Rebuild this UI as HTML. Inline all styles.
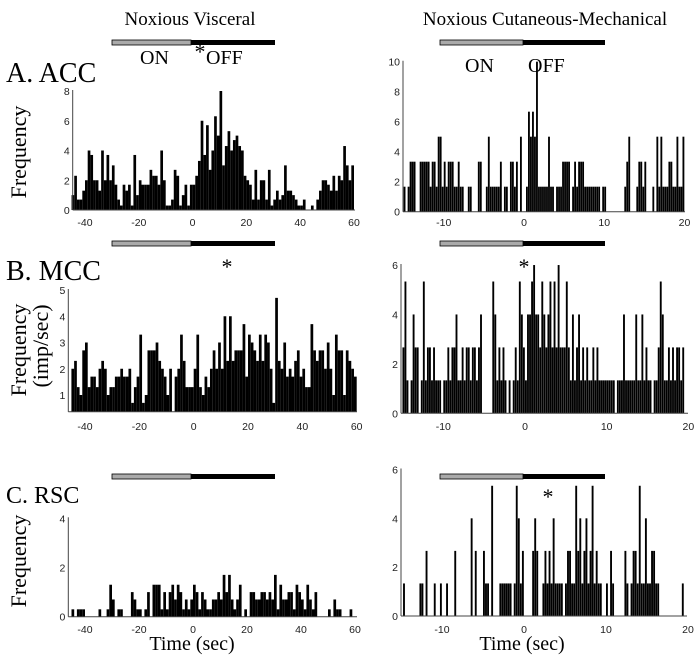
<!DOCTYPE html>
<html><head><meta charset="utf-8"><style>
html,body{margin:0;padding:0;background:#fff;}
svg{display:block;}
.serif{font-family:"Liberation Serif",serif;fill:#000;}
.tick{font-family:"Liberation Sans",sans-serif;font-size:10.5px;fill:#222;}
</style></head><body>
<svg id="fig" width="700" height="661" viewBox="0 0 700 661" xmlns="http://www.w3.org/2000/svg">
<text class="serif" x="190" y="25" font-size="19" text-anchor="middle">Noxious Visceral</text>
<text class="serif" x="545" y="25" font-size="19" text-anchor="middle">Noxious Cutaneous-Mechanical</text>
<text class="serif" x="6" y="82" font-size="28">A. ACC</text>
<text class="serif" x="6" y="280" font-size="28">B. MCC</text>
<text class="serif" x="6" y="503" font-size="24">C. RSC</text>
<text class="serif" font-size="22" transform="translate(26,152) rotate(-90)" text-anchor="middle">Frequency</text>
<text class="serif" font-size="22" transform="translate(26,350) rotate(-90)" text-anchor="middle">Frequency</text>
<text class="serif" font-size="22" transform="translate(48,346) rotate(-90)" text-anchor="middle">(imp/sec)</text>
<text class="serif" font-size="22" transform="translate(26,561) rotate(-90)" text-anchor="middle">Frequency</text>
<text class="serif" x="192" y="650" font-size="20" text-anchor="middle">Time (sec)</text>
<text class="serif" x="522" y="650" font-size="20" text-anchor="middle">Time (sec)</text>
<text class="serif" x="140" y="64" font-size="20">ON</text>
<text class="serif" x="206" y="64" font-size="20">OFF</text>
<text class="serif" x="465" y="72" font-size="20">ON</text>
<text class="serif" x="528" y="72" font-size="20">OFF</text>
<g id="stim"></g>
<g id="plots"></g>
<text class="serif" x="200" y="59" font-size="22" text-anchor="middle">*</text>
<text class="serif" x="227" y="274" font-size="22" text-anchor="middle">*</text>
<text class="serif" x="524" y="274" font-size="22" text-anchor="middle">*</text>
<text class="serif" x="548" y="504" font-size="22" text-anchor="middle">*</text>
</svg>
<script>
const NS="http://www.w3.org/2000/svg";
// Panel A left (1 s bins from -45)
const accVisceral=[1,2.3,0.7,0.7,1.3,2,4,3.7,2,2,1.3,4,2,3.7,2,3,1.7,0.7,0.3,1.7,1.3,1.7,0.3,3.7,1,2,1.7,1.7,1.7,2.7,2.3,2.3,1.7,4,2,0.3,0.3,0.7,2.7,2.3,0.3,1,1.7,0.3,1.7,1.7,2.3,3.3,6,3.7,5.7,2.7,4,6.3,5,8,3,4.3,5.3,4,4.7,5,4.3,4,2.3,2,1.7,0.7,2.7,0.7,2,2,0.7,2.7,0.3,0.7,1.3,0.7,1,3,1.3,1.3,1,0.7,0.3,0.3,0.7,0,0,0.3,0,0.7,1.3,2,2,1.7,1.3,2.3,1.3,2.3,2,4.3,3,2,3];
// Panel A right (0.25 s bins from -15), spike counts, freq = count*1.667
const accCutCounts=[1,0,1,2,2,2,0,0,2,2,2,2,2,1,2,2,1,3,3,1,2,1,2,2,2,1,1,2,1,1,0,0,1,1,0,0,0,2,2,0,0,1,3,1,1,1,1,1,2,0,1,1,0,2,2,1,2,0,3,0,0,1,4,3,4,3,6,1,1,1,1,1,3,1,1,0,1,1,1,2,2,2,2,0,1,2,1,2,2,2,1,1,1,1,1,1,1,1,0,1,1,0,0,0,0,0,0,0,0,0,1,2,3,0,0,0,1,2,2,1,2,0,0,0,1,0,3,1,3,1,1,1,2,2,1,1,3,1,1,3];
// Panel B left
const mccVisceral=[2,2.3,1.3,1,2.7,3,1.3,1.7,1.7,1.3,2,2.3,2,1,1.3,1.3,1.7,1.7,2,1.7,1.7,2,0.7,1.3,1.7,3.3,0.7,1,2.7,2.7,2.7,3,2.3,2,1.7,1,2,0.3,1.7,2,3.3,2.3,1.3,1.3,1.3,2,3.3,1.3,1,1.7,1.3,2,2.7,2,3,2,4,2.3,4,2.3,2.7,2.7,2.7,3.7,1.7,3.3,3,2.7,2.3,3.3,2.3,3.3,3,2,0.7,4.7,2.3,2,3,1.7,2,1.7,2.3,2.7,1.7,2,1.3,1.3,3.7,2.7,2.3,2.7,2.7,2,3,2,1,3.3,2.7,2.7,1,2.7,2.3,2,1.7];
// Panel B right counts, freq = count*1.333
const mccCutCounts=[2,4,1,0,1,3,2,2,0,1,4,1,2,2,1,2,1,1,1,0,1,1,2,1,2,2,3,1,1,2,1,2,2,1,2,2,1,2,3,0,0,0,0,0,4,3,1,2,1,2,1,0,1,0,1,2,1,4,3,2,1,3,3,4,4.5,3,3,2,4,3,2,3,4,2,4,2,4.5,2,2,2,4,2,1,3,1,2,3,1,2,1,2,1,1,2,1,2,1,1,1,1,1,1,1,1,0,1,1,1,3,1,1,1,1,1,3,1,1,3,1,2,1,1,0,1,1,2,4,3,1,1,2,1,2,1,2,2,1,2,0,0];
// Panel C left
const rscVisceral=[0.3,0,0.3,0.3,0.3,0,0,0,0,0,0.3,0,0,0.3,1.3,0.7,0,0.3,0.3,0,0,0,1,0.7,0.3,0.3,0,0.3,1,0,1.3,1.3,1.3,0.3,1,0.3,1,1.3,0.7,1.3,1,0.3,0.7,0.3,0.7,1.3,1,0.3,1,0.7,0.3,0.3,0.7,0.7,1,0.7,1.7,1,1.7,0.7,0.3,0.7,1.3,0,0.3,0,1,1,0.7,0.7,1,1,0.7,1,0.7,1.7,0.3,1.3,0.7,0.7,1,1,0.3,1.3,1,0.7,0.3,1.3,0.7,0.3,1,0,0,0,0,0.3,0,0.7,0.3,0.3,0,0,0,0.3,0];
// Panel C right counts, freq = count*1.333
const rscCutCounts=[0,1,0,0,0,0,0,0,0,1,1,0,2,0,0,0,1,0,0,1,0,0,1,0,0,0,2,0,0,0,0,0,0,0,3,0,2,0,0,0,2,1,1,0,4,0,0,0,1,1,1,1,1,1,0,1,4,3,1,2,0,0,0,0,2,3,2,0,0,1,2,1,2,1,3,1,1,1,1,0,1,2,2,1,1,4,2,3,1,2,3,1,2,4,1,2,1,1,0,0,1,0,2,1,0,0,0,0,0,2,1,0,1,2,2,1,4,1,1,3,1,1,2,2,1,1,0,0,0,0,0,0,0,0,0,0,0,1,0,0];
const ticksA_L_y=[0,2,4,6,8], ticksA_R_y=[0,2,4,6,8,10], ticksB_L_y=[1,2,3,4,5], ticksB_R_y=[0,2,4,6], ticksC_L_y=[0,2,4], ticksC_R_y=[0,2,4,6];
const ticksLeftX=[-40,-20,0,20,40,60], ticksRightX=[-10,0,10,20];

const plots=document.getElementById('plots');
function el(tag,attrs,parent){const e=document.createElementNS(NS,tag);for(const k in attrs)e.setAttribute(k,attrs[k]);(parent||plots).appendChild(e);return e;}
function panel(name,vals,mult,t0,dt,xs,ys,axisX,yTicks,xTicks,xTop,xBot,yBase,xLabY,gap){
  const g=el('g',{});
  
  
  vals.forEach((v0,i)=>{const v=v0*mult;if(v<=0)return;
    const x1=xs(t0+i*dt),x2=xs(t0+(i+1)*dt),yv=ys(v),yb=ys(yBase);
    if(yb-yv<=0)return;
    const r=el('rect',{x:x1,y:yv,width:Math.max(0.6,(x2-x1)*gap),height:yb-yv,fill:'#000'},g);
    
    
  });
  const yb=ys(yBase);
  const ax=el('line',{x1:axisX,x2:axisX,y1:ys(yTicks[yTicks.length-1])-1,y2:yb,stroke:'#444','stroke-width':1},g);
  
  
  const bx=el('line',{x1:axisX,x2:xBot,y1:yb,y2:yb,stroke:'#444','stroke-width':1},g);
  
  
  yTicks.forEach(t=>{const tx=el('text',{x:axisX-3,y:ys(t)+4,'text-anchor':'end',class:'tick'},g);tx.textContent=t;
    
    });
  xTicks.forEach(t=>{const tx=el('text',{x:xs(t),y:xLabY,'text-anchor':'middle',class:'tick'},g);tx.textContent=t;
    
    });
}
const lin=(a0,p0,a1,p1)=>v=>p0+(v-a0)*(p1-p0)/(a1-a0);
panel('panel-a-visceral',accVisceral,1,-45,1,lin(-40,85,60,354),lin(0,210,8,91),72.7,ticksA_L_y,ticksLeftX,0,355,0,226,1);
panel('panel-a-cutaneous',accCutCounts,1.667,-15,0.25,lin(0,524,20,684.5),lin(0,211.7,10,61.7),403,ticksA_R_y,ticksRightX,0,685,0,226,0.92);
panel('panel-b-visceral',mccVisceral,1,-45,1,lin(-40,85,60,356.7),lin(1,395,5,290),68.3,ticksB_L_y,ticksLeftX,0,357,0.36,430,1);
panel('panel-b-cutaneous',mccCutCounts,1.333,-15,0.25,lin(0,525,10,606.7),lin(0,413.3,6,265),401,ticksB_R_y,ticksRightX,0,688,0,430,0.92);
panel('panel-c-visceral',rscVisceral,1,-45,1,lin(-40,85,60,355),lin(0,616.7,4,518.3),68.3,ticksC_L_y,ticksLeftX,0,357,0,633,1);
panel('panel-c-cutaneous',rscCutCounts,1.333,-15,0.25,lin(0,524,10,606),lin(0,616,4,518.3),401,ticksC_R_y,ticksRightX,0,687,0,633,0.92);

// stimulus bars
const stim=document.getElementById('stim');
[[112,191,275,40],[440,523,605,40],[112,191,275,241],[440,523,605,241],[112,191,275,474],[440,523,605,474]].forEach((s,i)=>{
  const a=el('rect',{x:s[0],y:s[3],width:s[1]-s[0],height:5,fill:'#aaa',stroke:'#000','stroke-width':0.8},stim);
  
  
  const b=el('rect',{x:s[1],y:s[3],width:s[2]-s[1],height:5,fill:'#000'},stim);
  
  
});
</script>
</body></html>
